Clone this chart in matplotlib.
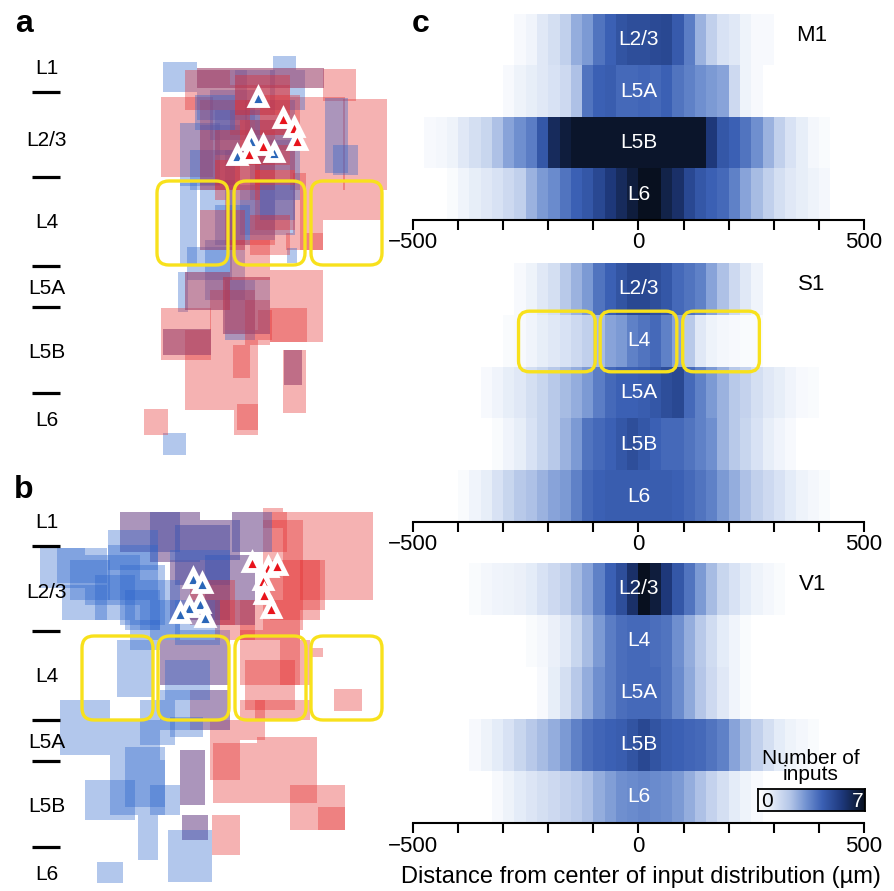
import numpy as np
import matplotlib
matplotlib.use('Agg')
import matplotlib.pyplot as plt
from matplotlib.patches import Rectangle, FancyBboxPatch
from matplotlib.colors import LinearSegmentedColormap
from itertools import zip_longest

plt.rcParams['font.family'] = ['Liberation Sans', 'DejaVu Sans']

W, H = 895, 891

# ---------------- panel c data: inputs per 25 um bin ----------------
bin_edges = np.arange(-500, 501, 25)

m1_layers = ['L2/3', 'L5A', 'L5B', 'L6']
m1_starts = [-275, -300, -475, -425]
m1_values = [
    [0.3, 0.5, 1.0, 1.3, 1.8, 2.6, 3.0, 3.8, 4.2, 4.6, 4.8, 4.8, 4.9, 5.0, 4.4, 3.6, 2.5, 1.8, 1.2, 1.0, 0.6, 0.3, 0.3],
    [0.3, 0.6, 0.8, 1.0, 1.2, 1.5, 2.2, 3.8, 4.2, 4.3, 4.0, 4.0, 4.1, 4.0, 4.2, 3.8, 3.5, 3.2, 3.0, 2.8, 1.5, 0.6, 0.3],
    [0.3, 0.4, 0.6, 1.0, 1.3, 1.6, 2.2, 2.8, 3.2, 3.6, 4.5, 6.0, 6.5, 6.8, 6.8, 6.8, 6.8, 6.8, 6.8, 6.8,
     6.8, 6.8, 6.8, 6.8, 6.8, 5.5, 4.5, 4.2, 3.8, 3.2, 2.5, 1.8, 1.2, 0.8, 0.4, 0.2],
    [0.2, 0.5, 0.8, 1.0, 1.2, 1.5, 1.8, 2.5, 3.0, 3.3, 3.8, 4.2, 4.5, 5.0, 5.5, 6.0, 6.5, 7.0, 7.0, 6.3,
     5.8, 5.0, 4.5, 4.2, 4.0, 3.5, 2.8, 2.3, 1.8, 1.3, 1.0, 0.8, 0.6, 0.4],
]

s1_layers = ['L2/3', 'L4', 'L5A', 'L5B', 'L6']
s1_starts = [-275, -300, -350, -325, -400]
s1_values = [
    [0.3, 0.6, 1.0, 1.3, 2.0, 2.5, 3.0, 3.8, 4.2, 4.6, 5.0, 5.0, 4.8, 4.5, 4.0, 3.8, 3.5, 2.8, 2.2, 1.5, 1.0, 0.5],
    [0.2, 0.3, 0.5, 0.8, 1.0, 1.2, 1.5, 1.8, 2.3, 2.8, 3.0, 3.5, 3.8, 4.0, 3.5, 2.8, 2.0, 1.0, 0.6, 0.4, 0.3, 0.2, 0.2],
    [0.3, 0.5, 0.8, 1.0, 1.3, 1.6, 2.0, 2.3, 2.6, 3.0, 3.6, 4.0, 4.2, 4.2, 4.3, 4.5, 4.8, 5.0, 4.0, 3.5,
     3.0, 2.5, 2.0, 1.7, 1.3, 1.0, 0.8, 0.5, 0.3, 0.2],
    [0.2, 0.5, 0.8, 1.2, 1.6, 2.0, 2.5, 3.0, 3.8, 4.0, 4.2, 4.5, 4.8, 4.5, 4.2, 4.0, 4.0, 3.8, 3.5, 3.2,
     2.5, 2.0, 1.6, 1.2, 0.8, 0.5, 0.3],
    [0.2, 0.5, 0.8, 1.2, 1.6, 2.0, 2.2, 2.5, 2.8, 3.0, 3.5, 4.0, 4.2, 4.3, 4.3, 4.3, 4.3, 4.3, 4.3, 4.2,
     4.0, 3.8, 3.5, 3.0, 2.6, 2.2, 1.8, 1.5, 1.2, 0.9, 0.6, 0.4, 0.2],
]

v1_layers = ['L2/3', 'L4', 'L5A', 'L5B', 'L6']
v1_starts = [-375, -250, -225, -375, -325]
v1_values = [
    [0.2, 0.4, 0.5, 0.6, 0.7, 0.9, 1.2, 1.5, 1.8, 2.3, 2.8, 3.5, 4.2, 4.8, 5.8, 7.0, 6.5, 5.5, 4.5, 3.8,
     3.0, 2.3, 1.6, 1.2, 0.9, 0.6, 0.4, 0.2],
    [0.2, 0.4, 0.7, 1.0, 1.6, 2.3, 3.0, 3.6, 3.9, 4.0, 4.0, 3.9, 3.8, 3.2, 2.6, 2.0, 1.4, 0.9, 0.5, 0.2],
    [0.3, 0.8, 1.3, 2.0, 2.6, 3.2, 3.6, 3.9, 4.0, 4.0, 4.0, 3.8, 3.3, 2.7, 2.1, 1.5, 1.0, 0.5, 0.2],
    [0.3, 0.6, 0.9, 1.2, 1.6, 2.0, 2.3, 2.6, 3.0, 3.5, 3.9, 4.1, 4.2, 4.3, 4.6, 5.0, 4.6, 4.3, 4.2, 4.1,
     4.0, 3.8, 3.5, 2.8, 2.3, 1.8, 1.3, 0.9, 0.6, 0.4, 0.2],
    [0.3, 0.6, 0.9, 1.1, 1.3, 1.5, 1.7, 1.9, 2.2, 2.6, 2.9, 3.2, 3.3, 3.4, 3.3, 3.2, 3.0, 2.6, 2.2, 1.7,
     1.3, 0.9, 0.6, 0.3],
]

# yellow boxes around S1 L4 (centre, width in um)
s1_box_centers = [-181, 0, 183]
s1_box_width = 170

# ---------------- panels a/b: input map squares (x, y, w, h) ----------------
a_red = [
    (161, 97, 52, 80), (323, 69, 33, 32), (343, 99, 44, 91), (290, 97, 55, 93), (323, 190, 60, 30),
    (300, 190, 23, 60), (286, 233, 37, 17), (270, 270, 53, 72), (161, 308, 50, 52), (185, 330, 73, 80),
    (233, 345, 17, 33), (237, 404, 21, 26), (144, 409, 24, 26), (283, 350, 23, 63), (270, 308, 37, 34),
    (234, 410, 24, 25), (258, 310, 14, 30), (293, 173, 13, 60), (185, 70, 45, 40), (230, 85, 60, 50),
    (215, 130, 60, 60), (255, 170, 40, 60), (225, 200, 50, 45), (210, 290, 45, 40), (245, 300, 25, 45),
    (163, 329, 48, 26), (284, 350, 18, 35), (223, 277, 47, 57), (185, 272, 45, 38), (197, 68, 127, 20),
    (200, 100, 50, 50), (240, 120, 50, 45), (260, 95, 40, 40), (215, 160, 45, 40), (250, 215, 40, 40),
    (200, 210, 45, 40), (230, 240, 40, 40), (235, 75, 55, 40), (200, 150, 40, 40), (255, 145, 40, 40),
]
a_blue = [
    (163, 62, 34, 30), (273, 56, 23, 14), (180, 123, 40, 63), (180, 183, 17, 83), (187, 247, 45, 33),
    (178, 272, 10, 40), (163, 433, 23, 22), (287, 248, 10, 15), (325, 98, 23, 75), (333, 145, 25, 30),
    (197, 70, 50, 50), (235, 70, 40, 45), (270, 70, 35, 40), (210, 90, 45, 50), (245, 100, 50, 50),
    (200, 125, 40, 60), (225, 150, 50, 50), (250, 140, 50, 60), (200, 180, 35, 70), (240, 185, 55, 50),
    (205, 240, 40, 60), (225, 280, 30, 60), (163, 329, 48, 26), (284, 350, 18, 35), (223, 277, 47, 57),
    (185, 272, 45, 38), (197, 68, 127, 20), (215, 110, 45, 45), (255, 120, 40, 50), (190, 150, 45, 40),
    (230, 200, 45, 40), (260, 180, 35, 40), (215, 205, 35, 40), (195, 95, 40, 35),
]
a_tri_blue = ([258, 251, 237, 274], [97, 140, 155, 152])
a_tri_red = ([283, 294, 297, 263, 249], [118, 127, 140, 145, 153])
a_layer_y = [66, 138, 221, 287, 350, 418]
a_dash_y = [92, 177, 266, 307, 393]
a_boxes_x = [157, 234, 311]
a_boxes_y = 181

b_blue = [
    (40, 548, 45, 40), (57, 548, 50, 35), (85, 555, 55, 50), (62, 585, 45, 35), (108, 545, 50, 55),
    (120, 565, 45, 60), (140, 580, 40, 50), (150, 600, 30, 40), (117, 640, 36, 57), (60, 700, 50, 55),
    (110, 720, 50, 40), (125, 747, 40, 60), (85, 780, 50, 40), (110, 760, 55, 55), (138, 815, 20, 45),
    (97, 862, 26, 21), (168, 830, 44, 52), (150, 785, 30, 30), (170, 717, 33, 20), (160, 690, 30, 40),
    (120, 512, 60, 40), (108, 530, 50, 40), (150, 512, 50, 50), (175, 525, 55, 60), (200, 520, 40, 40),
    (170, 550, 60, 70), (205, 555, 50, 70), (160, 630, 70, 55), (190, 690, 40, 40), (180, 750, 25, 55),
    (182, 815, 26, 25), (232, 512, 40, 40), (70, 560, 40, 40), (95, 575, 40, 45), (125, 590, 35, 40),
    (130, 620, 30, 30), (175, 600, 45, 45), (165, 660, 45, 40), (140, 700, 35, 45),
]
b_red = [
    (120, 512, 60, 40), (150, 512, 50, 50), (175, 525, 55, 60), (200, 520, 40, 40), (170, 560, 60, 60),
    (205, 555, 50, 70), (160, 640, 70, 45), (190, 690, 40, 40), (180, 750, 25, 55), (182, 815, 26, 25),
    (232, 512, 55, 40), (263, 508, 20, 20), (283, 512, 90, 88), (263, 520, 40, 110),
    (270, 560, 50, 60), (300, 560, 25, 50), (240, 600, 60, 40), (240, 630, 60, 55), (245, 660, 50, 50),
    (280, 640, 30, 45), (255, 700, 55, 20), (334, 689, 28, 22), (312, 648, 11, 9), (210, 720, 30, 60),
    (213, 743, 44, 60), (257, 737, 60, 66), (290, 785, 55, 45), (318, 807, 27, 23), (212, 815, 28, 40),
    (240, 700, 25, 40), (190, 580, 45, 45), (215, 600, 40, 40),
]
b_tri_blue = ([193, 202, 200, 189, 180, 205], [578, 583, 603, 607, 613, 617])
b_tri_red = ([252, 268, 277, 263, 264, 271], [562, 567, 565, 580, 594, 608])
b_layer_y = [520, 590, 675, 740, 804, 872]
b_dash_y = [546, 631, 720, 761, 847]
b_boxes_x = [82, 158, 235, 311]
b_boxes_y = 636

layer_names = ['L1', 'L2/3', 'L4', 'L5A', 'L5B', 'L6']

blue = '#2a64cc'
red = '#e42a2c'
yellow = '#f8e11c'

cmap = LinearSegmentedColormap.from_list('inputs', [
    (0.0, '#ffffff'), (0.12, '#e6edf8'), (0.3, '#b4c6e8'), (0.45, '#7292d1'),
    (0.6, '#3b60b4'), (0.78, '#1f3a7e'), (1.0, '#08101f')])

fig = plt.figure(figsize=(W / 100, H / 100), dpi=100)


def px_axes(x0, y0, x1, y1):
    ax = fig.add_axes([x0 / W, 1 - y1 / H, (x1 - x0) / W, (y1 - y0) / H])
    ax.set_xlim(x0, x1)
    ax.set_ylim(y1, y0)
    ax.axis('off')
    return ax


def draw_map(ax, reds, blues, tri_b, tri_r, label_y, dash_y, boxes_x, box_y):
    for r, b in zip_longest(reds, blues):
        if r is not None:
            ax.add_patch(Rectangle(r[:2], r[2], r[3], fc=red, ec='none', alpha=0.36))
        if b is not None:
            ax.add_patch(Rectangle(b[:2], b[2], b[3], fc=blue, ec='none', alpha=0.36))
    for bx in boxes_x:
        ax.add_patch(FancyBboxPatch((bx, box_y), 71, 84, boxstyle='round,pad=0,rounding_size=12',
                                    fc='none', ec=yellow, lw=2.4, zorder=5))
    for xs, ys, c in [(tri_b[0], tri_b[1], '#2a66b8'), (tri_r[0], tri_r[1], '#e8141c')]:
        ax.plot(xs, ys, ls='none', marker='^', ms=12, mfc=c, mec='white', mew=3.5, zorder=6)
    for name, y in zip(layer_names, label_y):
        ax.text(47, y + 7.5, name, ha='center', va='baseline', fontsize=15)
    for y in dash_y:
        ax.plot([32, 60], [y, y], color='black', lw=2.3, solid_capstyle='butt')


ax_a = px_axes(0, 40, 400, 462)
draw_map(ax_a, a_red, a_blue, a_tri_blue, a_tri_red, a_layer_y, a_dash_y, a_boxes_x, a_boxes_y)
ax_b = px_axes(0, 478, 400, 891)
draw_map(ax_b, b_red, b_blue, b_tri_blue, b_tri_red, b_layer_y, b_dash_y, b_boxes_x, b_boxes_y)

fig.text(24 / W, 1 - 32 / H, 'a', fontsize=23, fontweight='bold', ha='center', va='baseline')
fig.text(24 / W, 1 - 498 / H, 'b', fontsize=23, fontweight='bold', ha='center', va='baseline')
fig.text(421 / W, 1 - 32 / H, 'c', fontsize=23, fontweight='bold', ha='center', va='baseline')

# ---------------- panel c ----------------
regions = [
    ('M1', m1_layers, m1_starts, m1_values, 14, 220),
    ('S1', s1_layers, s1_starts, s1_values, 263, 522),
    ('V1', v1_layers, v1_starts, v1_values, 563, 823),
]
x0, x1 = 413, 864
for name, layers, starts, values, top, bottom in regions:
    ax = fig.add_axes([x0 / W, 1 - bottom / H, (x1 - x0) / W, (bottom - top) / H])
    n = len(layers)
    grid = np.zeros((n, len(bin_edges) - 1))
    for i, (s, v) in enumerate(zip(starts, values)):
        j = (s + 500) // 25
        grid[i, j:j + len(v)] = v
    ax.pcolormesh(bin_edges, np.arange(n + 1), grid, cmap=cmap, vmin=0, vmax=7, shading='flat')
    ax.set_xlim(-500, 500)
    ax.set_ylim(n, 0)
    for sp in ['left', 'right', 'top']:
        ax.spines[sp].set_visible(False)
    ax.spines['bottom'].set_linewidth(1.5)
    ax.set_yticks([])
    ticks = np.arange(-500, 501, 100)
    ax.set_xticks(ticks)
    ax.set_xticklabels(['\u2212500' if t == -500 else ('0' if t == 0 else ('500' if t == 500 else ''))
                        for t in ticks])
    ax.tick_params(axis='x', direction='out', length=7, width=1.5, labelsize=16, pad=2)
    for i, lay in enumerate(layers):
        ax.text(0, i + 0.5, lay, color='white', ha='center', va='center', fontsize=15)
    ax.text(385, 0.42, name, ha='center', va='center', fontsize=16)
    if name == 'S1':
        row_px = (bottom - top) / n
        aspect = ((x1 - x0) / 1000) / row_px
        for c in s1_box_centers:
            ax.add_patch(FancyBboxPatch((c - s1_box_width / 2, 0.93), s1_box_width, 1.17,
                                        boxstyle='round,pad=0,rounding_size=24',
                                        mutation_aspect=aspect, fc='none', ec=yellow,
                                        lw=2.4, clip_on=False, zorder=5))

# colorbar
cax = fig.add_axes([758 / W, 1 - 811 / H, 107 / W, 22 / H])
cax.imshow(np.linspace(0, 7, 256)[None, :], aspect='auto', cmap=cmap, extent=[0, 7, 0, 1])
cax.set_xticks([])
cax.set_yticks([])
for sp in cax.spines.values():
    sp.set_linewidth(1.3)
cax.text(0.6, 0.45, '0', ha='center', va='center', fontsize=15, color='black')
cax.text(6.5, 0.45, '7', ha='center', va='center', fontsize=15, color='white')
fig.text(811 / W, 1 - 784 / H, 'Number of\ninputs', ha='center', va='bottom', fontsize=15,
         linespacing=0.8)

fig.text(641 / W, 1 - 877 / H, 'Distance from center of input distribution (\u00b5m)',
         ha='center', va='center', fontsize=17)

fig.savefig('out.png', dpi=100)
